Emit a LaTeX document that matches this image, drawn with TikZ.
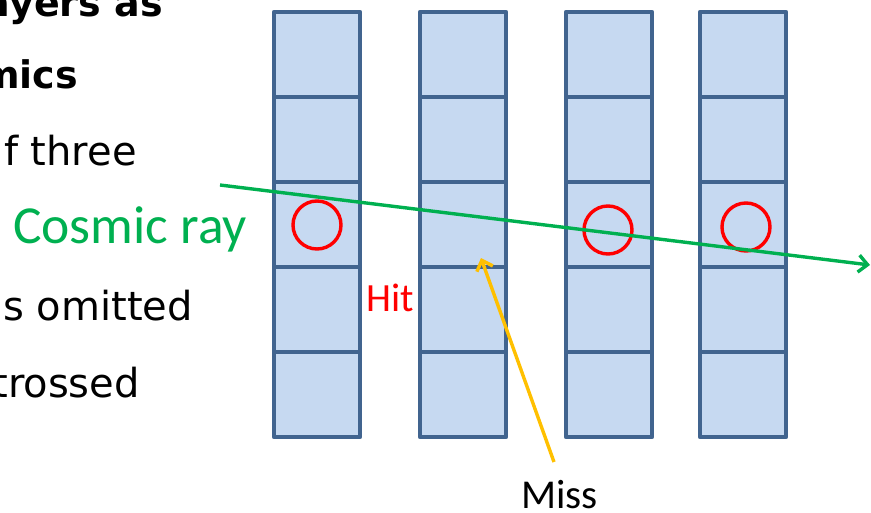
\documentclass[tikz,border=0pt]{standalone}
\usepackage{fontspec}
\setmainfont{DejaVu Sans}
\newfontfamily\calibri{Carlito}
\usetikzlibrary{arrows.meta}
\definecolor{cellfill}{HTML}{C6D9F1}
\definecolor{celldraw}{HTML}{41648F}
\definecolor{raygreen}{HTML}{00B050}
\definecolor{missyellow}{HTML}{FFC000}
\definecolor{hitred}{HTML}{FF0000}
\begin{document}
\begin{tikzpicture}[x=1pt,y=-1pt,
  cell/.style={draw=celldraw, fill=cellfill, line width=4.5pt, line join=round,
    minimum width=86pt, minimum height=85pt, inner sep=0pt, outer sep=0pt},
  hitmark/.style={circle, draw=hitred, line width=3.4pt, minimum size=48pt, inner sep=0pt},
  bodytext/.style={anchor=base east, inner sep=0pt, font=\fontsize{40}{48}\selectfont},
  headtext/.style={anchor=base east, inner sep=0pt, font=\bfseries\fontsize{38}{44}\selectfont},
  ray/.style={draw=raygreen, line width=3.4pt, -{Straight Barb[length=9pt,width=17pt]}},
  missline/.style={draw=missyellow, line width=3.4pt, -{Straight Barb[length=9pt,width=17pt]}},
  label/.style={inner sep=0pt, font=\calibri}]
\useasboundingbox (0,0) rectangle (871,512);
\clip (0,0) rectangle (871,512);
% left text
\node[headtext] (l1) at (163,16) {ayers as};
\node[headtext] (l2) at (78,88) {mics};
\node[bodytext] (l3) at (137,165) {f three};
\node[bodytext] (l5) at (193,320) {s omitted};
\node[bodytext] (l6) at (140,397) {trossed};
% detector columns
\foreach \c/\xl in {1/274,2/420,3/566,4/700}{
  \foreach \r in {1,...,5}{
    \node[cell] (c\c\r) at ({\xl+43},{54.5+85*(\r-1)}) {};
  }
}
% hits
\node[hitmark] (h1) at (317,225) {};
\node[hitmark] (h3) at (608,230) {};
\node[hitmark] (h4) at (746,227) {};
% cosmic ray
\coordinate (rs) at (220,185);
\coordinate (re) at (870,265);
\draw[ray] (rs) -- (re);
\node[label, anchor=base west, text=raygreen, font=\calibri\fontsize{53.5}{60}\selectfont] (cr) at (13,243) {Cosmic ray};
% labels
\node[label, anchor=base west, text=hitred, font=\calibri\fontsize{40}{48}\selectfont] (hit) at (366,311) {Hit};
\node[label, anchor=base west, text=black, font=\calibri\fontsize{41}{48}\selectfont] (miss) at (521,508) {Miss};
\coordinate (ms) at (554,462);
\coordinate (mt) at (481,258);
\draw[missline] (ms) -- (mt);
\end{tikzpicture}
\end{document}
